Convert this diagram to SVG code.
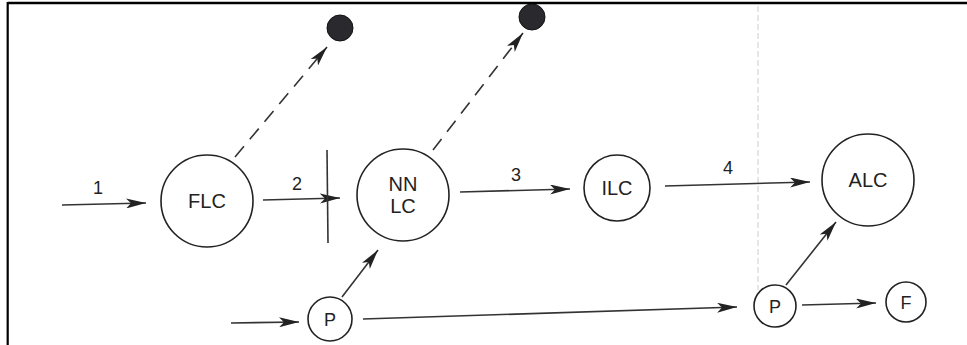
<svg xmlns="http://www.w3.org/2000/svg" width="967" height="345" viewBox="0 0 967 345">
<style>
.node{fill:#fff;stroke:#222;stroke-width:1.6}
.dot{fill:#2a2a2e;stroke:#111;stroke-width:1}
.t{font-family:"Liberation Sans",Arial,sans-serif;font-size:20px;fill:#222;text-anchor:middle}
.lbl{font-family:"Liberation Sans",Arial,sans-serif;font-size:18px;fill:#222;text-anchor:middle}
.c{fill:none;stroke:#333;stroke-width:1.6}
.d{stroke-dasharray:14 9}
</style>
<defs>
<marker id="ah" viewBox="0 0 20 10" refX="20" refY="5" markerWidth="20" markerHeight="10" markerUnits="userSpaceOnUse" orient="auto">
<path d="M0,0 L20,5 L0,10 L5,5 Z" fill="#222"/>
</marker>
</defs>
<rect width="967" height="345" fill="#fff"/>
<g id="frame">
<line x1="7.7" y1="3" x2="967" y2="3" stroke="#000" stroke-width="2.6"/>
<line x1="7.7" y1="2" x2="7.7" y2="345" stroke="#000" stroke-width="2.2"/>
<line x1="758" y1="6" x2="758" y2="290" stroke="#ccc" stroke-width="1" stroke-dasharray="6 3"/>
</g>
<g id="connectors">
<line class="c" x1="62" y1="205" x2="146" y2="203" marker-end="url(#ah)"/>
<line class="c" x1="263" y1="200" x2="340" y2="198" marker-end="url(#ah)"/>
<line class="c" x1="327" y1="150" x2="328" y2="243"/>
<line class="c" x1="460" y1="192" x2="570" y2="189" marker-end="url(#ah)"/>
<line class="c" x1="665" y1="186" x2="810" y2="182" marker-end="url(#ah)"/>
<line class="c d" x1="235" y1="157" x2="327" y2="47" marker-end="url(#ah)"/>
<line class="c d" x1="433" y1="150" x2="523" y2="33" marker-end="url(#ah)"/>
<line class="c" x1="231" y1="323" x2="299" y2="322" marker-end="url(#ah)"/>
<line class="c" x1="342" y1="297" x2="378" y2="250" marker-end="url(#ah)"/>
<line class="c" x1="363" y1="319" x2="737" y2="307" marker-end="url(#ah)"/>
<line class="c" x1="786" y1="285" x2="836" y2="222" marker-end="url(#ah)"/>
<line class="c" x1="802" y1="305" x2="876" y2="303" marker-end="url(#ah)"/>
<text class="lbl" x="98" y="194">1</text>
<text class="lbl" x="297" y="190">2</text>
<text class="lbl" x="516" y="181">3</text>
<text class="lbl" x="728" y="174">4</text>
</g>
<g id="dot1"><circle class="dot" cx="340" cy="28" r="13"/></g>
<g id="dot2"><circle class="dot" cx="532" cy="17" r="13"/></g>
<g id="FLC"><circle class="node" cx="207" cy="201" r="46"/><text class="t" x="207" y="208">FLC</text></g>
<g id="NNLC"><circle class="node" cx="403" cy="195" r="46"/><text class="t" x="403" y="191">NN</text><text class="t" x="403" y="213">LC</text></g>
<g id="ILC"><circle class="node" cx="617" cy="188" r="33"/><text class="t" x="617" y="195">ILC</text></g>
<g id="ALC"><circle class="node" cx="868" cy="180" r="46"/><text class="t" x="868" y="187">ALC</text></g>
<g id="P1"><circle class="node" cx="330" cy="319" r="22"/><text class="lbl" x="330" y="326">P</text></g>
<g id="P2"><circle class="node" cx="775" cy="306" r="21"/><text class="lbl" x="775" y="313">P</text></g>
<g id="F"><circle class="node" cx="906" cy="302" r="20"/><text class="lbl" x="906" y="309">F</text></g>
</svg>
